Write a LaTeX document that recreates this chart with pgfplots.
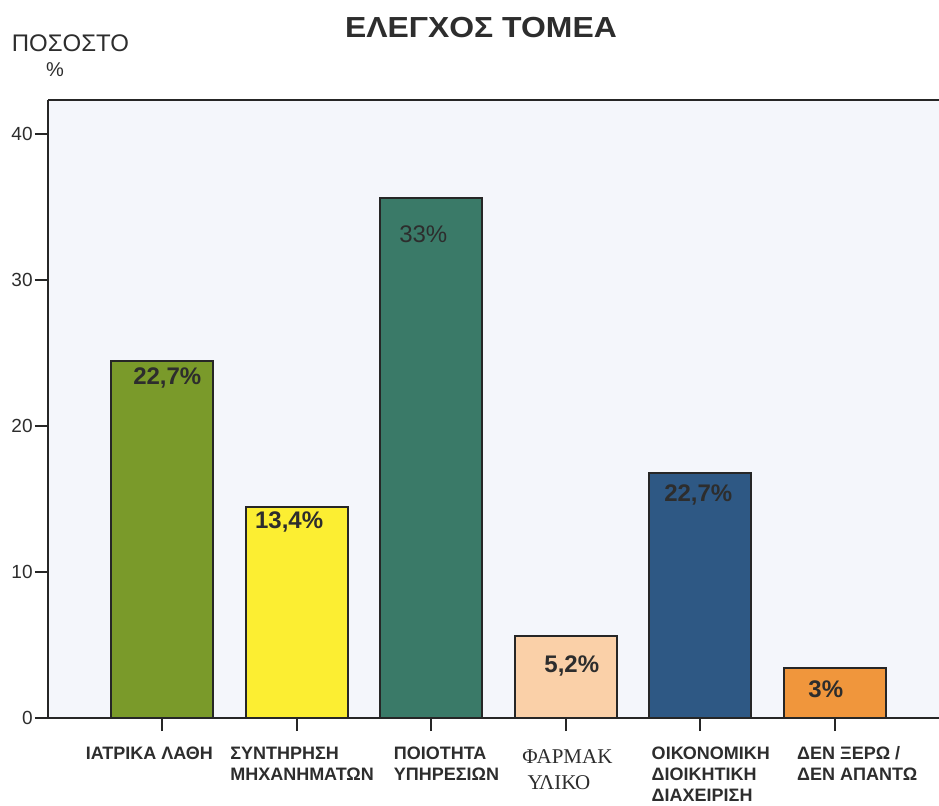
\documentclass[border=0pt]{standalone}
\usepackage{fontspec}
\setmainfont{Liberation Sans}
\newfontfamily\serifgr{Liberation Serif}
\usepackage{graphicx}
\usepackage{pgfplots}
\pgfplotsset{compat=1.18}
\definecolor{cA}{RGB}{122,154,42}
\definecolor{cB}{RGB}{252,238,50}
\definecolor{cC}{RGB}{58,122,104}
\definecolor{cD}{RGB}{250,208,168}
\definecolor{cE}{RGB}{46,88,132}
\definecolor{cF}{RGB}{240,150,60}
\definecolor{bgc}{RGB}{244,246,251}
\definecolor{txt}{RGB}{45,45,45}
\newcommand{\lab}[2]{\hspace*{#1}\begin{tabular}{@{}l@{}}#2\end{tabular}}
\begin{document}
\begin{tikzpicture}
\useasboundingbox (0,0) rectangle (469.5pt,402.5pt);
\clip (0,0) rectangle (469.5pt,402.5pt);
\node[font=\bfseries\fontsize{14.5}{16}\selectfont, text=txt] at (240.5pt,388.5pt) {\scalebox{1.1}[1]{ΕΛΕΓΧΟΣ ΤΟΜΕΑ}};
\node[font=\fontsize{12}{14}\selectfont, text=txt] at (35.25pt,381pt) {ΠΟΣΟΣΤΟ};
\node[font=\fontsize{10}{12}\selectfont, text=txt] at (27.5pt,367.5pt) {\%};
\begin{axis}[
  at={(24pt,43.5pt)}, anchor=south west,
  scale only axis, width=445.5pt, height=309pt,
  xmin=-0.85, xmax=5.775, ymin=0, ymax=42.33,
  axis x line*=bottom, axis y line*=left,
  axis line style={-, line width=1pt, draw=black!85},
  axis background/.style={fill=bgc},
  tick align=outside, major tick length=6.5pt,
  tick style={line width=1pt, draw=black!85},
  xtick={0,1,2,3,4,5},
  xticklabels={
    {\lab{0pt}{ΙΑΤΡΙΚΑ ΛΑΘΗ}},
    {\lab{5pt}{ΣΥΝΤΗΡΗΣΗ\\ΜΗΧΑΝΗΜΑΤΩΝ}},
    {\lab{19.5pt}{ΠΟΙΟΤΗΤΑ\\ΥΠΗΡΕΣΙΩΝ}},
    {\serifgr\mdseries\fontsize{10.5}{13}\selectfont\lab{16.5pt}{ΦΑΡΜΑΚ\\\ ΥΛΙΚΟ}},
    {\lab{14pt}{ΟΙΚΟΝΟΜΙΚΗ\\ΔΙΟΙΚΗΤΙΚΗ\\ΔΙΑΧΕΙΡΙΣΗ}},
    {\lab{19.5pt}{ΔΕΝ ΞΕΡΩ /\\ΔΕΝ ΑΠΑΝΤΩ}}},
  ytick={0,10,20,30,40},
  /pgf/number format/assume math mode=true,
  yticklabel style={font=\fontsize{9.5}{10}\selectfont, text=txt, inner sep=1pt},
  xticklabel style={font=\bfseries\fontsize{9}{10.4}\selectfont, text=txt, anchor=north west, xshift=-41.8pt, yshift=-3.5pt},
  ybar, bar width=51pt, bar shift=0pt,
  clip=false,
]
\addplot[draw=black!85, line width=1pt, fill=cA] coordinates {(0,24.47)};
\addplot[draw=black!85, line width=1pt, fill=cB] coordinates {(1,14.47)};
\addplot[draw=black!85, line width=1pt, fill=cC] coordinates {(2,35.60)};
\addplot[draw=black!85, line width=1pt, fill=cD] coordinates {(3,5.64)};
\addplot[draw=black!85, line width=1pt, fill=cE] coordinates {(4,16.76)};
\addplot[draw=black!85, line width=1pt, fill=cF] coordinates {(5,3.40)};
\draw[line width=1pt, draw=black!85] (rel axis cs:0,1) -- (rel axis cs:1,1);
\tikzset{vl/.style={font=\bfseries\fontsize{12}{14}\selectfont, text=txt, inner sep=0pt}}
\node[vl, xshift=2.5pt, yshift=-8.4pt] at (axis cs:0,24.47) {22,7\%};
\node[vl, xshift=-3.85pt, yshift=-7.5pt] at (axis cs:1,14.47) {13,4\%};
\node[vl, font=\fontsize{12}{14}\selectfont, xshift=-4pt, yshift=-17.9pt] at (axis cs:2,35.60) {33\%};
\node[vl, xshift=3pt, yshift=-15pt] at (axis cs:3,5.64) {5,2\%};
\node[vl, xshift=-1pt, yshift=-10.9pt] at (axis cs:4,16.76) {22,7\%};
\node[vl, xshift=-4.5pt, yshift=-10.4pt] at (axis cs:5,3.40) {3\%};
\end{axis}
\end{tikzpicture}
\end{document}
